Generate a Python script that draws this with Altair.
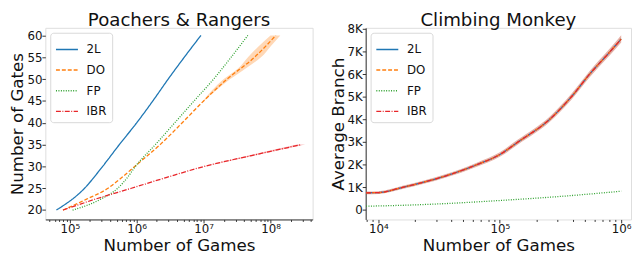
import altair as alt
import pandas as pd

# ---------------- data: Poachers & Rangers ----------------
pr_title = "Poachers & Rangers"
pr_gates_2l = [20, 25, 30, 35, 40, 45, 50, 55, 60]
pr_games_2l = [63000, 166000, 309000, 550000, 1000000, 1740000, 2950000, 5130000, 9100000]

pr_gates_do = [20, 22.5, 25, 27.5, 30, 35, 40, 45, 50, 55, 60]
pr_games_do = [79000, 178000, 372000, 603000, 933000, 2240000, 4790000, 10000000, 22400000, 57500000, 120000000]

pr_gates_fp = [20, 22.5, 25, 27.5, 30, 35, 40, 45, 50, 55, 60]
pr_games_fp = [110000, 290000, 520000, 730000, 955000, 1900000, 3700000, 7200000, 14100000, 25700000, 45700000]

pr_gates_ibr = [20, 22.5, 25, 27.5, 30, 32.5, 35]
pr_games_ibr = [79000, 240000, 832000, 2820000, 10200000, 52500000, 288000000]

pr_band_do_gates = [45, 50, 52.5, 55, 57.5, 60]
pr_band_do_lo = [9800000, 20000000, 33000000, 46000000, 66000000, 100000000]
pr_band_do_hi = [10200000, 25000000, 43000000, 72000000, 100000000, 140000000]

pr_band_ibr_gates = [30, 32.5, 35]
pr_band_ibr_lo = [10000000, 47000000, 250000000]
pr_band_ibr_hi = [10400000, 58000000, 330000000]

pr_y_ticks = [20, 25, 30, 35, 40, 45, 50, 55, 60]

# ---------------- data: Climbing Monkey ----------------
cm_title = "Climbing Monkey"
cm_games_main = [7900, 10000, 15800, 35500, 64600, 100000, 141000, 257000, 389000, 550000, 813000, 1000000]
cm_branch_main = [760, 770, 1000, 1500, 2000, 2450, 3000, 4000, 5000, 6000, 7000, 7550]
cm_band_half = [60, 60, 70, 80, 90, 100, 110, 120, 130, 140, 150, 160]

cm_games_fp = [7900, 10000, 31600, 100000, 316000, 1000000]
cm_branch_fp = [170, 180, 270, 420, 600, 830]

cm_y_ticks = [0, 1000, 2000, 3000, 4000, 5000, 6000, 7000, 8000]

series_order = ["2L", "DO", "FP", "IBR"]
series_colors = ["#1f77b4", "#ff7f0e", "#2ca02c", "#e8262a"]
series_dashes = [[1, 0], [4, 2], [1, 1.5], [5, 1.5, 1, 1.5]]

FONT = "DejaVu Sans"
PR_W, CM_W, H = 272, 270, 195


def long_df(pairs):
    rows = []
    for name, xs, ys in pairs:
        for x, y in zip(xs, ys):
            rows.append({"series": name, "x": x, "y": y})
    return pd.DataFrame(rows)


pr_df = long_df([
    ("2L", pr_games_2l, pr_gates_2l),
    ("DO", pr_games_do, pr_gates_do),
    ("FP", pr_games_fp, pr_gates_fp),
    ("IBR", pr_games_ibr, pr_gates_ibr),
])
pr_band_df = pd.concat([
    pd.DataFrame({"series": "DO", "y": pr_band_do_gates, "lo": pr_band_do_lo, "hi": pr_band_do_hi}),
    pd.DataFrame({"series": "IBR", "y": pr_band_ibr_gates, "lo": pr_band_ibr_lo, "hi": pr_band_ibr_hi}),
])

cm_df = long_df([
    ("2L", cm_games_main, cm_branch_main),
    ("DO", cm_games_main, cm_branch_main),
    ("FP", cm_games_fp, cm_branch_fp),
    ("IBR", cm_games_main, cm_branch_main),
])
cm_band_df = pd.DataFrame({
    "x": cm_games_main,
    "lo": [b - h for b, h in zip(cm_branch_main, cm_band_half)],
    "hi": [b + h for b, h in zip(cm_branch_main, cm_band_half)],
})

color_scale = alt.Scale(domain=series_order, range=series_colors)
dash_scale = alt.Scale(domain=series_order, range=series_dashes)


def make_legend():
    return alt.Legend(
        title=None, orient="top-left", offset=5,
        symbolType="stroke", symbolSize=500, symbolStrokeWidth=1.5,
        labelFont=FONT, labelFontSize=12, labelColor="#111",
        rowPadding=3, labelOffset=8,
        fillColor="white", strokeColor="#d8d8d8", cornerRadius=3,
        padding=5,
    )


SUP = "['\u2070','\u00b9','\u00b2','\u00b3','\u2074','\u2075','\u2076','\u2077','\u2078','\u2079']"
IS_DEC = "abs(log(datum.value)/LN10 - round(log(datum.value)/LN10)) < 0.001"
LABEL_EXPR = f"{IS_DEC} ? '10' + {SUP}[round(log(datum.value)/LN10)] : ''"


def log_ticks(lo_dec, hi_dec, vmin, vmax):
    vals = []
    for d in range(lo_dec, hi_dec + 1):
        for m in range(1, 10):
            v = m * 10 ** d
            if vmin <= v <= vmax:
                vals.append(v)
    return vals


def x_axis(values, domain_line):
    return alt.Axis(
        values=values, labelExpr=LABEL_EXPR, labelOverlap=False,
        tickSize={"condition": {"test": IS_DEC, "value": 3.5}, "value": 2},
        tickColor="#333", labelFont=FONT, labelFontSize=12, labelColor="#111",
        labelPadding=1, grid=False,
        domain=domain_line, domainColor="#333", domainWidth=1,
        title="Number of Games", titleFont=FONT, titleFontSize=17,
        titleFontWeight="normal", titleColor="#111", titlePadding=3,
    )


def y_axis(title, values, domain_line, label_expr=None):
    kw = dict(
        values=values, tickSize=3.5, tickColor="#333", labelOverlap=False,
        labelFont=FONT, labelFontSize=12, labelColor="#111", labelPadding=0,
        grid=False, domain=domain_line, domainColor="#333", domainWidth=1,
        title=title, titleFont=FONT, titleFontSize=17, titleFontWeight="normal",
        titleColor="#111", titlePadding=0,
    )
    if label_expr:
        kw["labelExpr"] = label_expr
    return alt.Axis(**kw)


def title_layer(text, width):
    return alt.Chart(pd.DataFrame({"t": [text]})).mark_text(
        font=FONT, fontSize=18.5, color="#111", align="center", baseline="alphabetic"
    ).encode(text="t:N", x=alt.value(width / 2), y=alt.value(-2))


# ---------------- left panel ----------------
pr_xdom = [43050, 426000000]
pr_ydom = [17.85, 61.75]
pr_xscale = alt.Scale(type="log", domain=pr_xdom, nice=False)
pr_yscale = alt.Scale(domain=pr_ydom, nice=False, zero=False)
pr_xaxis = x_axis(log_ticks(4, 8, pr_xdom[0], pr_xdom[1]), True)
pr_yaxis = y_axis("Number of Gates", pr_y_ticks, False)

pr_band = alt.Chart(pr_band_df).mark_area(orient="horizontal", opacity=0.3, clip=True,
                                          interpolate="monotone").encode(
    y=alt.Y("y:Q", scale=pr_yscale, axis=pr_yaxis),
    x=alt.X("lo:Q", scale=pr_xscale, axis=pr_xaxis),
    x2="hi:Q",
    fill=alt.Fill("series:N", scale=color_scale, legend=None),
)
pr_lines = alt.Chart(pr_df).mark_line(strokeWidth=1.3, clip=True, interpolate="monotone").encode(
    x=alt.X("x:Q", scale=pr_xscale, axis=pr_xaxis),
    y=alt.Y("y:Q", scale=pr_yscale, axis=pr_yaxis),
    color=alt.Color("series:N", scale=color_scale, legend=make_legend()),
    strokeDash=alt.StrokeDash("series:N", scale=dash_scale, legend=make_legend()),
)
left = alt.layer(pr_band, pr_lines, title_layer(pr_title, PR_W)).properties(width=PR_W, height=H)

# ---------------- right panel ----------------
cm_xdom = [7850, 1205000]
cm_ydom = [-417, 8042]
cm_xscale = alt.Scale(type="log", domain=cm_xdom, nice=False)
cm_yscale = alt.Scale(domain=cm_ydom, nice=False, zero=False)
cm_xaxis = x_axis(log_ticks(3, 6, cm_xdom[0], cm_xdom[1]), False)
cm_yaxis = y_axis("Average Branch", cm_y_ticks, True,
                  "datum.value == 0 ? '0' : (datum.value/1000) + 'K'")

cm_band = alt.Chart(cm_band_df).mark_area(color="#c8553d", opacity=0.45, clip=True,
                                          interpolate="monotone").encode(
    x=alt.X("x:Q", scale=cm_xscale, axis=cm_xaxis),
    y=alt.Y("lo:Q", scale=cm_yscale, axis=cm_yaxis),
    y2="hi:Q",
)
cm_lines = alt.Chart(cm_df).mark_line(strokeWidth=1.3, clip=True, interpolate="monotone").encode(
    x=alt.X("x:Q", scale=cm_xscale, axis=cm_xaxis),
    y=alt.Y("y:Q", scale=cm_yscale, axis=cm_yaxis),
    color=alt.Color("series:N", scale=color_scale, legend=make_legend()),
    strokeDash=alt.StrokeDash("series:N", scale=dash_scale, legend=make_legend()),
)
right = alt.layer(cm_band, cm_lines, title_layer(cm_title, CM_W)).properties(width=CM_W, height=H)

chart = alt.hconcat(left, right, spacing=15).resolve_scale(
    x="independent", y="independent", color="independent", strokeDash="independent"
).resolve_legend(color="independent", strokeDash="independent").properties(
    padding={"left": 0, "top": 0, "right": 0, "bottom": 0}
).configure_view(stroke="#e3e3e3", strokeWidth=1).configure(background="white")

chart.save("out.html", embed_options={"renderer": "svg", "actions": False})
